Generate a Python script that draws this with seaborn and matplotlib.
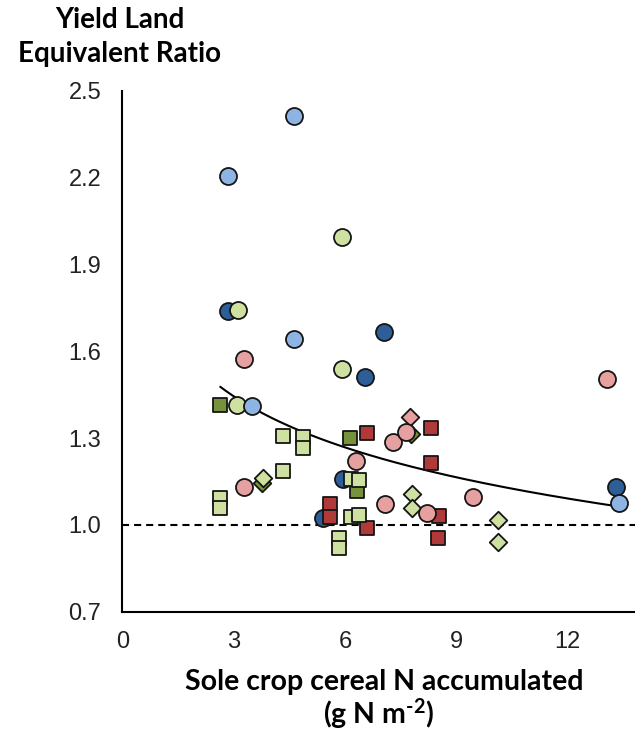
import numpy as np
import pandas as pd
import matplotlib
matplotlib.use("Agg")
import matplotlib.pyplot as plt
import seaborn as sns

# Sole crop cereal N accumulated (g N m-2) and yield LER, per intercrop group
lightblue_circle_x = [2.85, 4.63, 4.63, 3.50, 13.39]
lightblue_circle_y = [2.205, 2.413, 1.643, 1.411, 1.076]

darkblue_circle_x = [2.85, 7.05, 6.54, 5.95, 5.41, 13.31]
darkblue_circle_y = [1.739, 1.667, 1.511, 1.158, 1.024, 1.131]

lightgreen_circle_x = [3.12, 5.92, 5.92, 3.09]
lightgreen_circle_y = [1.743, 1.996, 1.539, 1.414]

pink_circle_x = [3.28, 3.28, 6.30, 7.30, 7.65, 7.08, 8.21, 9.45, 13.06]
pink_circle_y = [1.574, 1.131, 1.221, 1.287, 1.321, 1.072, 1.041, 1.096, 1.504]

darkgreen_square_x = [2.64, 6.14, 6.33]
darkgreen_square_y = [1.415, 1.300, 1.117]

lightgreen_square_x = [2.64, 2.64, 4.33, 4.33, 4.88, 4.88, 6.16, 6.38, 6.16, 6.38, 5.84, 5.84]
lightgreen_square_y = [1.094, 1.059, 1.307, 1.186, 1.305, 1.266, 1.159, 1.155, 1.027, 1.034, 0.955, 0.920]

red_square_x = [6.60, 8.32, 8.32, 5.60, 5.60, 6.60, 8.54, 8.51]
red_square_y = [1.318, 1.335, 1.214, 1.072, 1.027, 0.989, 1.031, 0.955]

lightgreen_diamond_x = [3.79, 7.81, 7.81, 10.13, 10.13]
lightgreen_diamond_y = [1.162, 1.107, 1.059, 1.018, 0.942]

darkgreen_diamond_x = [3.76, 7.78]
darkgreen_diamond_y = [1.145, 1.314]

pink_diamond_x = [7.76]
pink_diamond_y = [1.373]

# Logarithmic trend: LER = a + b * ln(N)
trend_a = 1.725
trend_b = -0.255

x_ticks = [0, 3, 6, 9, 12]
y_ticks = [0.7, 1.0, 1.3, 1.6, 1.9, 2.2, 2.5]

C_LIGHTBLUE = "#8DB4E2"
C_DARKBLUE = "#2E5E98"
C_LIGHTGREEN = "#CFE1A0"
C_DARKGREEN = "#76923C"
C_PINK = "#E6A0A0"
C_RED = "#B03A3A"
EDGE = "#151515"

sns.set_theme(style="white")
plt.rcParams["font.family"] = ["Liberation Sans", "DejaVu Sans"]
plt.rcParams["mathtext.fontset"] = "custom"
plt.rcParams["mathtext.rm"] = "Lato:bold"
plt.rcParams["mathtext.it"] = "Lato:bold"
plt.rcParams["mathtext.bf"] = "Lato:bold"

fig = plt.figure(figsize=(6.35, 7.33), dpi=100)
ax = fig.add_axes([0.1926, 0.1655, 0.8074, 0.7104])

# (x, y, colour, marker, size) in drawing order
groups = [
    (darkgreen_diamond_x, darkgreen_diamond_y, C_DARKGREEN, "D", 80),
    (lightgreen_diamond_x, lightgreen_diamond_y, C_LIGHTGREEN, "D", 80),
    (pink_diamond_x, pink_diamond_y, C_PINK, "D", 80),
    (darkblue_circle_x, darkblue_circle_y, C_DARKBLUE, "o", 150),
    (lightgreen_circle_x, lightgreen_circle_y, C_LIGHTGREEN, "o", 150),
    (lightblue_circle_x, lightblue_circle_y, C_LIGHTBLUE, "o", 150),
    (red_square_x, red_square_y, C_RED, "s", 110),
    (darkgreen_square_x, darkgreen_square_y, C_DARKGREEN, "s", 110),
    (lightgreen_square_x, lightgreen_square_y, C_LIGHTGREEN, "s", 110),
    (pink_circle_x, pink_circle_y, C_PINK, "o", 150),
]

all_x = np.concatenate([g[0] for g in groups])

ax.axhline(1.0, color="black", lw=1.5, ls=(0, (3.4, 2.4)), zorder=1)

xs = np.linspace(all_x.min(), all_x.max(), 200)
trend = pd.DataFrame({"x": xs, "y": trend_a + trend_b * np.log(xs)})
sns.lineplot(data=trend, x="x", y="y", color="black", lw=1.5, ax=ax, zorder=2)

for i, (gx, gy, col, mk, sz) in enumerate(groups):
    sns.scatterplot(x=gx, y=gy, color=col, marker=mk, s=sz,
                    edgecolor=EDGE, linewidth=1.3, ax=ax, zorder=3 + i)

ax.set_xlim(0, 13.82)
ax.set_ylim(0.7, 2.5)
ax.set_xticks(x_ticks)
ax.set_yticks(y_ticks)
ax.set_xticklabels([str(t) for t in x_ticks])
ax.set_yticklabels([f"{t:.1f}" for t in y_ticks])

for side in ["top", "right"]:
    ax.spines[side].set_visible(False)
for side in ["left", "bottom"]:
    ax.spines[side].set_color("black")
    ax.spines[side].set_linewidth(1.5)

ax.tick_params(axis="both", which="major", direction="out", length=5, width=1.5,
               colors="black", labelsize=17, labelcolor="#222222")
ax.tick_params(axis="y", pad=10)
ax.tick_params(axis="x", pad=9)
ax.set_xlabel("")
ax.set_ylabel("")

ybold = dict(family=["Lato", "DejaVu Sans"], fontweight="bold", fontsize=20, color="black")
xbold = dict(family=["Lato", "DejaVu Sans"], fontweight="bold", fontsize=20.5, color="black")
fig.text(120 / 635, 1 - 20 / 733, "Yield Land", ha="center", va="center", **ybold)
fig.text(120 / 635, 1 - 54 / 733, "Equivalent Ratio", ha="center", va="center", **ybold)
fig.text(384 / 635, 1 - 682 / 733, "Sole crop cereal N accumulated",
         ha="center", va="center", **xbold)
fig.text(379 / 635, 1 - 714 / 733, r"(g N m$^{\text{-2}}$)",
         ha="center", va="center", **xbold)

fig.savefig("out.png", dpi=100)
